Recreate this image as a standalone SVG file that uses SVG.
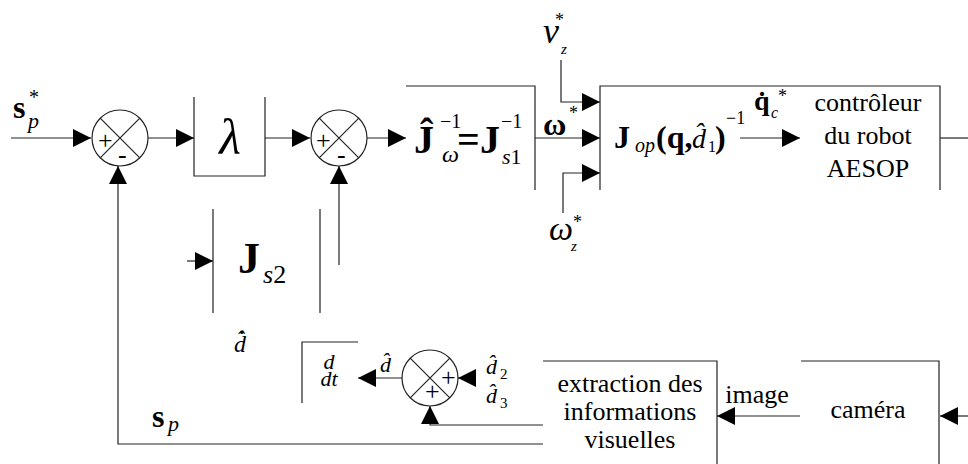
<svg xmlns="http://www.w3.org/2000/svg" width="968" height="464" viewBox="0 0 968 464">
<style>
.ln{fill:none;stroke:#222;stroke-width:1.2}
.cn{fill:none;stroke:#222;stroke-width:1.2;marker-end:url(#arr)}
</style>
<defs>
<marker id="arr" markerUnits="userSpaceOnUse" markerWidth="18" markerHeight="18" refX="18" refY="9" orient="auto" viewBox="0 0 18 18">
<path d="M0,0 L18,9 L0,18 Z" fill="#000" stroke="none"/>
</marker>
</defs>
<rect width="968" height="464" fill="#fff"/>

<g id="sum1">
<circle class="ln" cx="120" cy="138" r="28"/>
<path class="ln" d="M100.2,118.2 L139.8,157.8 M139.8,118.2 L100.2,157.8"/>
<text style="font-family:'Liberation Serif'" font-size="26"><tspan x="98" y="149">+</tspan><tspan x="118" y="163">-</tspan></text>
</g>

<g id="lambda">
<path class="ln" d="M194,97 V176 H265 V97"/>
<text style="font-family:'Liberation Serif'" font-style="italic" text-anchor="middle" x="230" y="154" font-size="50">λ</text>
</g>

<g id="sum2">
<circle class="ln" cx="339" cy="138" r="28"/>
<path class="ln" d="M319.2,118.2 L358.8,157.8 M358.8,118.2 L319.2,157.8"/>
<text style="font-family:'Liberation Serif'" font-size="26"><tspan x="316" y="149">+</tspan><tspan x="337" y="163">-</tspan></text>
</g>

<g id="jw">
<path class="ln" d="M406,86 H535 V190"/>
<text style="font-family:'Liberation Serif'" font-size="40"><tspan font-weight="bold" x="414" y="153">Ĵ</tspan><tspan x="440" y="128" font-size="20">−1</tspan><tspan font-style="italic" x="442" y="162" font-size="24">ω</tspan><tspan font-weight="bold" x="457" y="153">=</tspan><tspan font-weight="bold" x="480" y="153">J</tspan><tspan x="501" y="128" font-size="20">−1</tspan><tspan font-style="italic" x="502" y="164" font-size="22">s</tspan><tspan font-size="22">1</tspan></text>
</g>

<g id="jop-controller">
<path class="ln" d="M600,190 V86 H940 V190"/>
<text style="font-family:'Liberation Serif'" font-size="32"><tspan font-weight="bold" x="614" y="148">J</tspan><tspan font-style="italic" x="635" y="152" font-size="20">op</tspan><tspan font-weight="bold" x="656" y="148">(q,</tspan><tspan font-style="italic" x="692" y="148" font-size="28">d̂</tspan><tspan x="708" y="152" font-size="16">1</tspan><tspan font-weight="bold" x="715" y="148">)</tspan><tspan x="726" y="124" font-size="18">−1</tspan></text>
<text style="font-family:'Liberation Serif'" text-anchor="middle" font-size="26"><tspan x="868" y="111">contrôleur</tspan><tspan x="868" y="144">du robot</tspan><tspan x="868" y="177">AESOP</tspan></text>
</g>

<g id="js2">
<path class="ln" d="M213,209 V313 M320,209 V313"/>
<text style="font-family:'Liberation Serif'" font-size="44"><tspan font-weight="bold" x="238" y="273">J</tspan><tspan font-style="italic" x="263" y="283" font-size="26">s</tspan><tspan font-size="26">2</tspan></text>
</g>

<g id="ddt">
<path class="ln" d="M358,342 H302 V403"/>
<text style="font-family:'Liberation Serif'" font-style="italic" text-anchor="middle" font-size="22"><tspan x="329" y="369">d</tspan><tspan x="329" y="386">dt</tspan></text>
</g>

<g id="sum3">
<circle class="ln" cx="430" cy="378" r="28"/>
<path class="ln" d="M410.2,358.2 L449.8,397.8 M449.8,358.2 L410.2,397.8"/>
<text style="font-family:'Liberation Serif'" font-size="26"><tspan x="441" y="386">+</tspan><tspan x="425" y="400">+</tspan></text>
</g>

<g id="extraction">
<path class="ln" d="M543,361 H717 V464"/>
<text style="font-family:'Liberation Serif'" text-anchor="middle" font-size="26"><tspan x="630" y="392">extraction des</tspan><tspan x="630" y="420">informations</tspan><tspan x="630" y="448">visuelles</tspan></text>
</g>

<g id="camera">
<path class="ln" d="M801,361 H939 V464"/>
<text style="font-family:'Liberation Serif'" text-anchor="middle" x="868" y="418" font-size="26">caméra</text>
</g>

<g id="connectors">
<path class="cn" d="M11,138 H91"/>
<path class="cn" d="M148,138 H194"/>
<path class="cn" d="M265,138 H310"/>
<path class="cn" d="M367,138 H406"/>
<path class="cn" d="M535,138 H600"/>
<path class="cn" d="M561,60 V102 H600"/>
<path class="cn" d="M563,213 V173 H600"/>
<path class="cn" d="M740,138 H800"/>
<path class="ln" d="M940,138 H968"/>
<path class="cn" d="M968,416 H940"/>
<path class="cn" d="M800,416 H717"/>
<path class="cn" d="M543,425 H430 V406"/>
<path class="cn" d="M476,378 H458"/>
<path class="cn" d="M402,378 H358"/>
<path class="cn" d="M543,444 H118 V166"/>
<path class="cn" d="M339,265 V166"/>
<path class="cn" d="M187,261 H213"/>
</g>

<g id="labels">
<text style="font-family:'Liberation Serif'"><tspan font-weight="bold" x="13" y="118" font-size="32">s</tspan><tspan font-style="italic" x="28" y="128" font-size="22">p</tspan><tspan x="29" y="104" font-size="20">*</tspan></text>
<text style="font-family:'Liberation Serif'"><tspan font-style="italic" x="543" y="43" font-size="36">v</tspan><tspan font-style="italic" x="561" y="54" font-size="15">z</tspan><tspan x="555" y="26" font-size="18">*</tspan></text>
<text style="font-family:'Liberation Serif'"><tspan font-weight="bold" x="543" y="135" font-size="32">ω</tspan><tspan x="569" y="119" font-size="18">*</tspan></text>
<text style="font-family:'Liberation Serif'"><tspan font-style="italic" x="549" y="240" font-size="34">ω</tspan><tspan font-style="italic" x="571" y="251" font-size="15">z</tspan><tspan x="573" y="228" font-size="18">*</tspan></text>
<text style="font-family:'Liberation Serif'"><tspan font-weight="bold" x="754" y="110" font-size="28">q̇</tspan><tspan font-style="italic" x="771" y="118" font-size="16">c</tspan><tspan x="778" y="102" font-size="18">*</tspan></text>
<text style="font-family:'Liberation Serif'" text-anchor="middle" x="757" y="403" font-size="26">image</text>
<text style="font-family:'Liberation Serif'"><tspan font-weight="bold" x="152" y="427" font-size="32">s</tspan><tspan font-style="italic" x="168" y="431" font-size="22">p</tspan></text>
<text style="font-family:'Liberation Serif'" font-style="italic" x="380" y="372" font-size="22">d̂</text>
<text style="font-family:'Liberation Serif'"><tspan font-style="italic" x="486" y="374" font-size="22">d̂</tspan><tspan x="500" y="379" font-size="15">2</tspan></text>
<text style="font-family:'Liberation Serif'"><tspan font-style="italic" x="486" y="403" font-size="22">d̂</tspan><tspan x="500" y="408" font-size="15">3</tspan></text>
<text style="font-family:'Liberation Serif'" font-style="italic" x="234" y="352" font-size="24">d̂̇</text>
</g>
</svg>
